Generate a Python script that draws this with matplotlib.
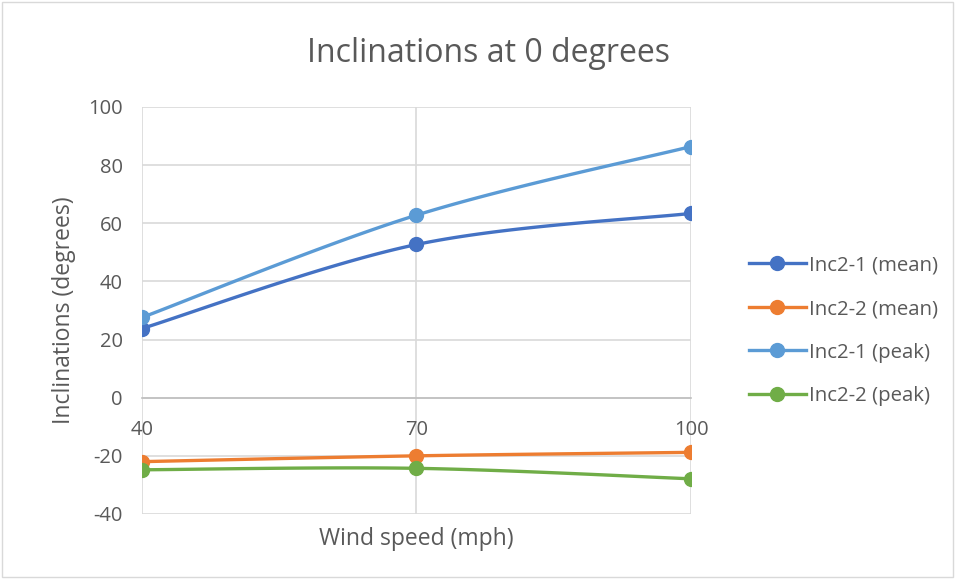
import numpy as np
import matplotlib.pyplot as plt
from matplotlib.patches import Rectangle

plt.rcParams['font.family'] = ['Open Sans', 'DejaVu Sans']
plt.rcParams['axes.unicode_minus'] = False

wind = [40, 70, 100]
inc21_mean = [23.8, 52.7, 63.4]
inc22_mean = [-22.0, -20.0, -18.8]
inc21_peak = [27.6, 62.8, 86.4]
inc22_peak = [-24.8, -24.3, -27.9]

labels = ['Inc2-1 (mean)', 'Inc2-2 (mean)', 'Inc2-1 (peak)', 'Inc2-2 (peak)']
colors = ['#4472C4', '#ED7D31', '#5B9BD5', '#70AD47']
series = [inc21_mean, inc22_mean, inc21_peak, inc22_peak]

TXT = '#595959'
GRID = '#D9D9D9'


def smooth(x, y, n=40):
    # Excel-style smoothed line: cubic Bezier through the points
    x = np.asarray(x, float)
    y = np.asarray(y, float)
    px = np.concatenate([[x[0]], x, [x[-1]]])
    py = np.concatenate([[y[0]], y, [y[-1]]])
    xs, ys = [], []
    t = np.linspace(0, 1, n)
    for i in range(len(x) - 1):
        p0 = np.array([px[i + 1], py[i + 1]])
        p3 = np.array([px[i + 2], py[i + 2]])
        c1 = p0 + (np.array([px[i + 2], py[i + 2]]) - np.array([px[i], py[i]])) / 6
        c2 = p3 - (np.array([px[i + 3], py[i + 3]]) - np.array([px[i + 1], py[i + 1]])) / 6
        b = ((1 - t) ** 3)[:, None] * p0 + (3 * (1 - t) ** 2 * t)[:, None] * c1 \
            + (3 * (1 - t) * t ** 2)[:, None] * c2 + (t ** 3)[:, None] * p3
        xs.extend(b[:, 0])
        ys.extend(b[:, 1])
    return xs, ys


fig = plt.figure(figsize=(9.56, 5.79), dpi=100)
ax = fig.add_axes([0.1485, 0.1123, 0.5743, 0.7029])

for vals, c, lab in zip(series, colors, labels):
    sx, sy = smooth(wind, vals)
    ax.plot(sx, sy, color=c, lw=2.4, solid_capstyle='round', zorder=3)
    ax.plot(wind, vals, 'o', color=c, ms=10, zorder=4)
    ax.plot([], [], '-o', color=c, lw=2.4, ms=10, label=lab)

ax.set_xlim(40, 100)
ax.set_ylim(-40, 100)
ax.set_yticks(range(-40, 101, 20))
ax.set_xticks(wind)

for y in range(-40, 101, 20):
    ax.axhline(y, color=GRID, lw=1.2, zorder=1)
for x in wind:
    ax.axvline(x, color=GRID, lw=1.2, zorder=1)

for s in ['top', 'right', 'left']:
    ax.spines[s].set_visible(False)
ax.spines['bottom'].set_position(('data', 0))
ax.spines['bottom'].set_color('#BFBFBF')
ax.spines['bottom'].set_linewidth(1.2)

ax.tick_params(axis='both', length=0, colors=TXT, labelsize=14.5)
ax.tick_params(axis='x', pad=16)
ax.tick_params(axis='y', pad=14)

ax.set_xlabel('Wind speed (mph)', fontsize=16.5, color=TXT, labelpad=0)
ax.xaxis.set_label_coords(0.5, -0.032)
ax.set_ylabel('Inclinations (degrees)', fontsize=16.5, color=TXT)
ax.yaxis.set_label_coords(-0.12, 0.5)

fig.text(0.511, 0.907, 'Inclinations at 0 degrees', ha='center', va='center',
         fontsize=23, color=TXT)

leg = ax.legend(loc='center left', bbox_to_anchor=(1.105, 0.45), frameon=False,
                fontsize=14.7, labelspacing=1.15, handlelength=2.8,
                handletextpad=0.15, borderpad=0, borderaxespad=0)
for t in leg.get_texts():
    t.set_color(TXT)

fig.patches.append(Rectangle((0.002, 0.003), 0.995, 0.994, transform=fig.transFigure,
                             fill=False, edgecolor='#D9D9D9', lw=1))

fig.savefig('out.png', dpi=100)
